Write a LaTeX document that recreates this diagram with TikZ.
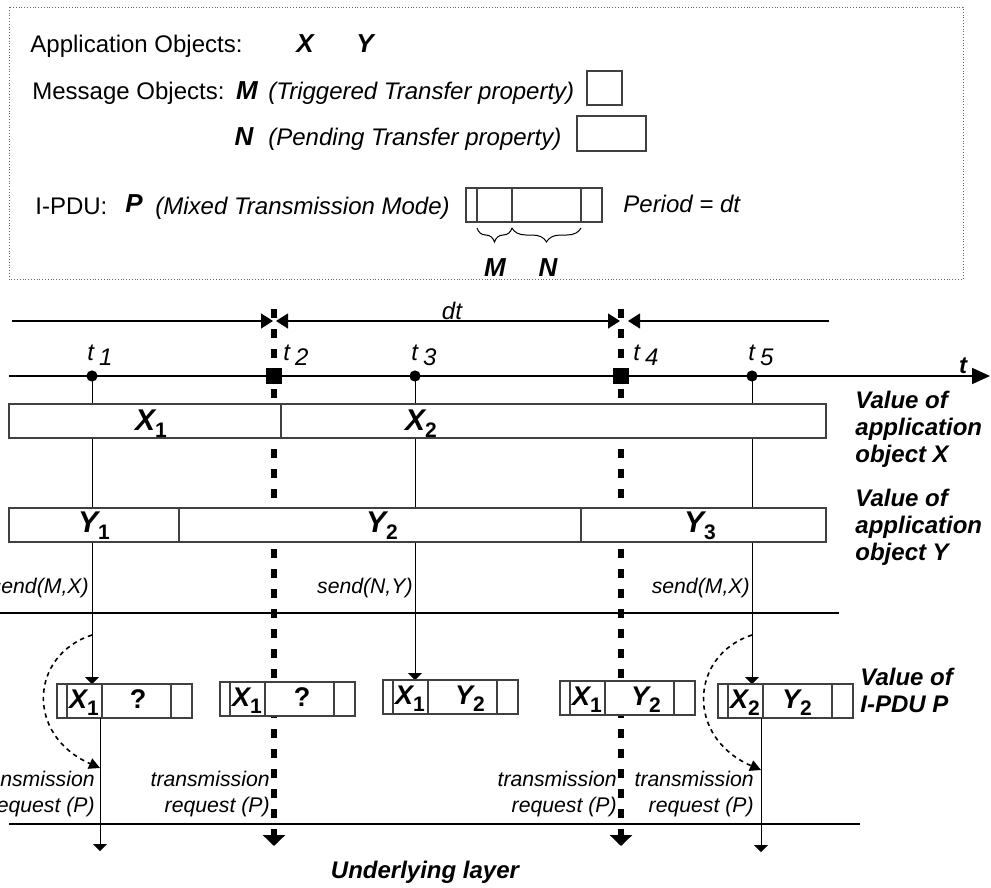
\documentclass[tikz,border=0pt]{standalone}
\usepackage{fontspec}
\setmainfont{Liberation Sans}
\usepackage{tikz}
\usetikzlibrary{arrows.meta}
\usetikzlibrary{decorations.pathreplacing}
\newcommand{\idx}[1]{\raisebox{-3.5pt}{\fontsize{10.5}{10.5}\selectfont\upshape #1}}
\newcommand{\tsub}[1]{\textit{t}\hspace{2.5pt}\raisebox{-2.5pt}{\textit{#1}}}

\begin{document}
\begin{tikzpicture}[x=0.5pt, y=-0.5pt,
        txt/.style={font=\fontsize{12}{13.5}\selectfont, inner sep=0pt},
        itxt/.style={font=\fontsize{12}{13.5}\selectfont\itshape, inner sep=0pt},
        btxt/.style={font=\fontsize{12}{13.5}\selectfont\bfseries\itshape, inner sep=0pt, align=left},
        sym/.style={font=\fontsize{13}{13}\selectfont\bfseries\itshape, inner sep=0pt},
        small/.style={font=\fontsize{10.6}{13}\selectfont\itshape, inner sep=0pt, align=right},
        val/.style={font=\fontsize{15}{15}\selectfont\bfseries\itshape, inner sep=0pt},
        pval/.style={font=\fontsize{13.5}{13.5}\selectfont\bfseries\itshape, inner sep=0pt},
        cell/.style={draw=black!75, line width=0.6pt},
        thinarr/.style={line width=0.5pt, -{Triangle[length=3.5pt, width=7pt]}},
        perline/.style={line width=2.6pt, dash pattern=on 4.5pt off 5.5pt, -{Triangle[length=5.5pt, width=11pt]}},
        trig/.style={line width=0.8pt, dash pattern=on 2.2pt off 2pt, -{Triangle[length=5.5pt, width=5.5pt]}}
    ]
        \useasboundingbox (0,0) rectangle (991,888);

        % legend
        \draw[black!60, densely dotted, line width=0.4pt] (9,7) rectangle (963,279);
        \node[txt, anchor=base west] (appobj) at (30,53) {Application Objects:};
        \node[sym, anchor=base] (legX) at (305,53) {X};
        \node[sym, anchor=base] (legY) at (365,53) {Y};
        \node[txt, anchor=base west] (msgobj) at (32,100) {Message Objects:};
        \node[sym, anchor=base] (legM) at (247,100) {M};
        \node[itxt, anchor=base west] (trigprop) at (268,100) {(Triggered Transfer property)};
        \draw[cell] (587,71) rectangle (622,105);
        \node[sym, anchor=base] (legN) at (244,146) {N};
        \node[itxt, anchor=base west] (pendprop) at (268,146) {(Pending Transfer property)};
        \draw[cell] (577,116) rectangle (646,151);
        \node[txt, anchor=base west] (ipdu) at (35,214) {I-PDU:};
        \node[sym, anchor=base] (legP) at (134,213) {P};
        \node[itxt, anchor=base west] (mixmode) at (155,214) {(Mixed Transmission Mode)};
        \draw[cell] (466,188) rectangle (602,222);
        \draw[cell] (477,188) -- (477,222);
        \draw[cell, line width=1.2pt] (512,188) -- (512,222);
        \draw[cell] (581,188) -- (581,222);
        \draw[decorate, decoration={brace, mirror, amplitude=7pt, aspect=0.5}, line width=0.5pt] (477,228) -- (512,228);
        \draw[decorate, decoration={brace, mirror, amplitude=7pt, aspect=0.5}, line width=0.5pt] (512,228) -- (581,228);
        \node[sym, anchor=base] (braceM) at (495,276) {M};
        \node[sym, anchor=base] (braceN) at (548,276) {N};
        \node[itxt, anchor=base west] (periodlbl) at (623,213) {Period = dt};

        % period arrows
        \coordinate (dtL) at (12,321);
        \coordinate (dt2l) at (273,321);
        \coordinate (dt2r) at (276,321);
        \coordinate (dt4l) at (620,321);
        \coordinate (dt4r) at (628,321);
        \coordinate (dtR) at (829,321);
        \draw[line width=0.65pt, -{Triangle[length=6pt, width=7.5pt]}] (dtL) -- (dt2l);
        \draw[line width=0.65pt, {Triangle[length=6pt, width=7.5pt]}-{Triangle[length=6pt, width=7.5pt]}] (dt2r) -- (dt4l);
        \draw[line width=0.65pt, -{Triangle[length=6pt, width=7.5pt]}] (dtR) -- (dt4r);
        \node[itxt, anchor=base] (dt) at (452,319) {dt};

        % time axis
        \coordinate (axL) at (9,376);
        \coordinate (axR) at (990,376);
        \coordinate (t1) at (92,376);
        \coordinate (t2) at (274,376);
        \coordinate (t3) at (415,376);
        \coordinate (t4) at (621,376);
        \coordinate (t5) at (752,376);
        \draw[line width=0.9pt, -{Triangle[length=9pt, width=8pt]}] (axL) -- (axR);
        \node[btxt, anchor=base] (taxis) at (963,373) {t};
        \node[itxt, anchor=base west] (lt1) at (87,360) {\tsub{1}};
        \node[itxt, anchor=base west] (lt2) at (283,360) {\tsub{2}};
        \node[itxt, anchor=base west] (lt3) at (411,360) {\tsub{3}};
        \node[itxt, anchor=base west] (lt4) at (633,360) {\tsub{4}};
        \node[itxt, anchor=base west] (lt5) at (748,360) {\tsub{5}};

        % period lines and sends
        \draw[perline] (274,309) -- (274,846);
        \draw[perline] (621,309) -- (621,846);
        \coordinate (p1in) at (92,684);
        \coordinate (p3in) at (415,680);
        \coordinate (p5in) at (752,684);
        \draw[thinarr] (t1) -- (p1in);
        \draw[thinarr] (t3) -- (p3in);
        \draw[thinarr] (t5) -- (p5in);

        % application objects
        \draw[cell, fill=white] (9,404) rectangle (281,438);
        \draw[cell, fill=white] (281,404) rectangle (826,438);
        \node[val, anchor=base] (x1) at (151,430) {X\idx{1}};
        \node[val, anchor=base] (x2) at (421,430) {X\idx{2}};
        \draw[cell, fill=white] (9,508) rectangle (179,542);
        \draw[cell, fill=white] (179,508) rectangle (581,542);
        \draw[cell, fill=white] (581,508) rectangle (826,542);
        \node[val, anchor=base] (y1) at (94,532) {Y\idx{1}};
        \node[val, anchor=base] (y2) at (382,532) {Y\idx{2}};
        \node[val, anchor=base] (y3) at (700,532) {Y\idx{3}};
        \node[btxt, anchor=west] (valx) at (855,429) {Value of\\application\\object X};
        \node[btxt, anchor=west] (valy) at (855,527) {Value of\\application\\object Y};

        \node[circle, fill, minimum size=5.6pt, inner sep=0pt] (d1) at (t1) {};
        \node[fill, minimum size=8.2pt, inner sep=0pt] (sq2) at (t2) {};
        \node[circle, fill, minimum size=5.6pt, inner sep=0pt] (d3) at (t3) {};
        \node[fill, minimum size=8.2pt, inner sep=0pt] (sq4) at (t4) {};
        \node[circle, fill, minimum size=5.6pt, inner sep=0pt] (d5) at (t5) {};

        \node[small, anchor=base east] (send1) at (89,593) {send(M,X)};
        \node[small, anchor=base east] (send2) at (413,593) {send(N,Y)};
        \node[small, anchor=base east] (send3) at (750,593) {send(M,X)};
        \draw[line width=1pt] (0,613) -- (839,613);

        % I-PDU P
        \begin{scope}[shift={(57,684)}]
            \draw[cell, fill=white] (0,0) rectangle (135,34);
            \draw[cell] (10,0) -- (10,34);
            \draw[cell, line width=1.2pt] (45,0) -- (45,34);
            \draw[cell] (114,0) -- (114,34);
            \node[pval, anchor=base] (pdu1a) at (27,24) {X\idx{1}};
            \node[pval, anchor=base] (pdu1b) at (81,24) {\upshape ?};
        \end{scope}
        \begin{scope}[shift={(220,682)}]
            \draw[cell, fill=white] (0,0) rectangle (135,34);
            \draw[cell] (10,0) -- (10,34);
            \draw[cell, line width=1.2pt] (45,0) -- (45,34);
            \draw[cell] (114,0) -- (114,34);
            \node[pval, anchor=base] (pdu2a) at (27,24) {X\idx{1}};
            \node[pval, anchor=base] (pdu2b) at (82,24) {\upshape ?};
        \end{scope}
        \begin{scope}[shift={(383,680)}]
            \draw[cell, fill=white] (0,0) rectangle (135,34);
            \draw[cell] (10,0) -- (10,34);
            \draw[cell, line width=1.2pt] (45,0) -- (45,34);
            \draw[cell] (114,0) -- (114,34);
            \node[pval, anchor=base] (pdu3a) at (27,24) {X\idx{1}};
            \node[pval, anchor=base] (pdu3b) at (87,24) {Y\idx{2}};
        \end{scope}
        \begin{scope}[shift={(560,681)}]
            \draw[cell, fill=white] (0,0) rectangle (135,34);
            \draw[cell] (10,0) -- (10,34);
            \draw[cell, line width=1.2pt] (45,0) -- (45,34);
            \draw[cell] (114,0) -- (114,34);
            \node[pval, anchor=base] (pdu4a) at (27,24) {X\idx{1}};
            \node[pval, anchor=base] (pdu4b) at (86,24) {Y\idx{2}};
        \end{scope}
        \begin{scope}[shift={(718,684)}]
            \draw[cell, fill=white] (0,0) rectangle (135,34);
            \draw[cell] (10,0) -- (10,34);
            \draw[cell, line width=1.2pt] (45,0) -- (45,34);
            \draw[cell] (114,0) -- (114,34);
            \node[pval, anchor=base] (pdu5a) at (27,24) {X\idx{2}};
            \node[pval, anchor=base] (pdu5b) at (79,24) {Y\idx{2}};
        \end{scope}
        \node[btxt, anchor=west] (valp) at (860,690) {Value of\\I-PDU P};

        % transmission requests
        \coordinate (p1out) at (100,718);
        \coordinate (p1end) at (100,851);
        \coordinate (p5out) at (761,718);
        \coordinate (p5end) at (761,852);
        \draw[thinarr] (p1out) -- (p1end);
        \draw[thinarr] (p5out) -- (p5end);
        \coordinate (c1s) at (92,635);
        \coordinate (c1e) at (100,768);
        \coordinate (c5s) at (752,635);
        \coordinate (c5e) at (761,770);
        \draw[trig] (c1s) .. controls (30,655) and (25,735) .. (c1e);
        \draw[trig] (c5s) .. controls (690,655) and (685,737) .. (c5e);
        \node[small, anchor=east] (req1) at (95,794) {transmission\\request (P)};
        \node[small, anchor=east] (req2) at (270,794) {transmission\\request (P)};
        \node[small, anchor=east] (req3) at (617,794) {transmission\\request (P)};
        \node[small, anchor=east] (req4) at (754,794) {transmission\\request (P)};
        \draw[line width=1pt] (9,824) -- (860,824);
        \node[btxt, anchor=base] (under) at (425,878) {Underlying layer};
\end{tikzpicture}
\end{document}
